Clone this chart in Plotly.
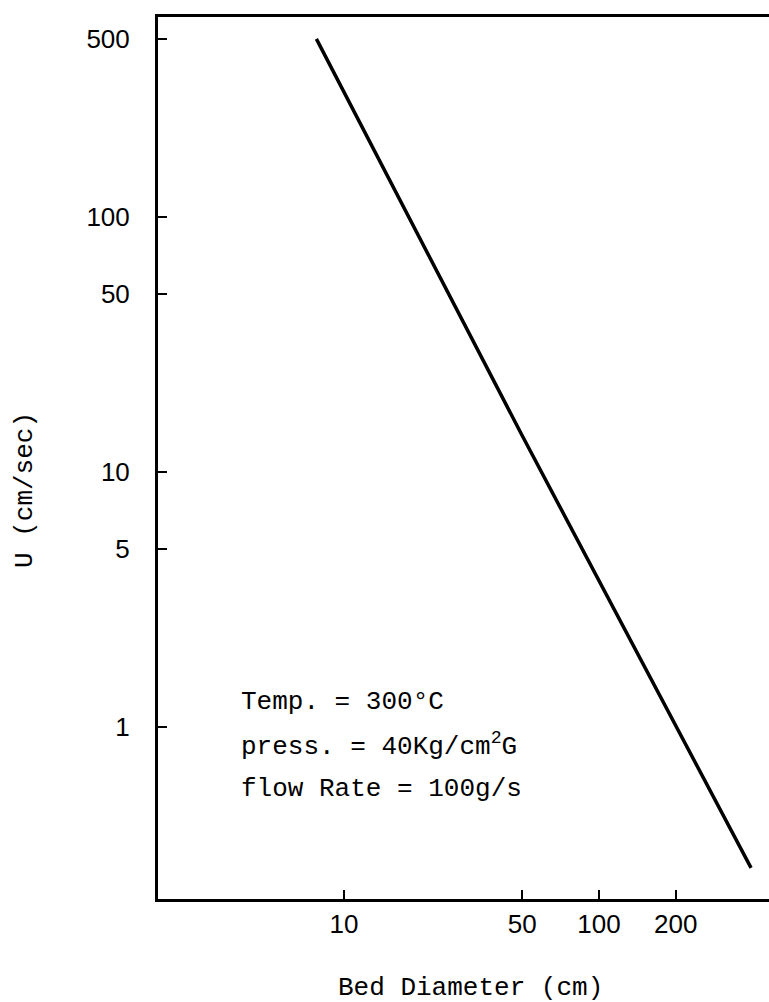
import plotly.graph_objects as go

# Data
bed_diameter = [7.8, 50, 395]        # cm
velocity = [500, 13.9, 0.28]         # cm/sec

x_ticks = [10, 50, 100, 200]
x_tick_labels = ["10", "50", "100", "200"]
y_ticks = [1, 5, 10, 50, 100, 500]
y_tick_labels = ["1", "5", "10", "50", "100", "500"]

notes = ["Temp. = 300°C", "press. = 40Kg/cm<sup>2</sup>G", "flow Rate = 100g/s"]

MONO = "Liberation Mono, Courier New, monospace"
SANS = "Liberation Sans, Arial, sans-serif"

fig = go.Figure()
fig.add_trace(go.Scatter(
    x=bed_diameter, y=velocity, mode="lines",
    line=dict(color="black", width=3.5),
    showlegend=False, hoverinfo="skip",
))

W, H = 769, 1002
L, R, T, B = 158, 0, 17, 103
pw, ph = W - L - R, H - T - B

def px_x(px):
    return (px - L) / pw

def px_y(py):
    return (H - B - py) / ph

fig.update_layout(
    width=W, height=H,
    margin=dict(l=L, r=R, t=T, b=B, pad=0),
    paper_bgcolor="white", plot_bgcolor="white",
    font=dict(family=SANS, color="black", size=26),
    xaxis=dict(
        type="log", range=[0.271, 2.667],
        tickvals=x_ticks, ticktext=x_tick_labels,
        ticks="inside", ticklen=9, tickwidth=2, tickcolor="black",
        showline=True, linewidth=3, linecolor="black", mirror=True,
        showgrid=False, zeroline=False,
        tickfont=dict(family=SANS, size=26, color="black"),
        ticklabelstandoff=0,
    ),
    yaxis=dict(
        type="log", range=[-0.675, 2.785],
        tickvals=y_ticks, ticktext=y_tick_labels,
        ticks="inside", ticklen=9, tickwidth=2, tickcolor="black",
        showline=True, linewidth=3, linecolor="black", mirror=False,
        showgrid=False, zeroline=False,
        tickfont=dict(family=SANS, size=26, color="black"),
        ticklabelstandoff=20,
    ),
)

fig.add_annotation(
    text="U (cm/sec)", xref="paper", yref="paper",
    x=px_x(25), y=px_y(490), xanchor="center", yanchor="middle",
    textangle=-90, showarrow=False,
    font=dict(family=MONO, size=26, color="black"),
)

fig.add_annotation(
    text="Bed Diameter (cm)", xref="paper", yref="paper",
    x=px_x(470), y=px_y(988), xanchor="center", yanchor="middle",
    showarrow=False,
    font=dict(family=MONO, size=26, color="black"),
)

note_y = [702, 745, 789]
for txt, yy in zip(notes, note_y):
    fig.add_annotation(
        text=txt, xref="paper", yref="paper",
        x=px_x(239), y=px_y(yy), xanchor="left", yanchor="middle",
        showarrow=False, font=dict(family=MONO, size=26, color="black"),
    )

fig.write_html("out.html")
